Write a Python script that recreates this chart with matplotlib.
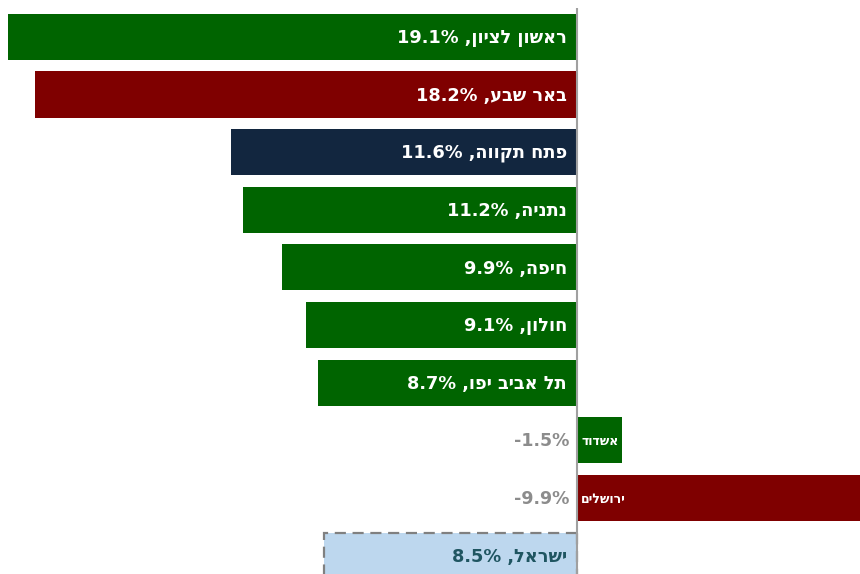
import matplotlib
matplotlib.use("Agg")
import matplotlib.pyplot as plt

# city names (logical order) and growth in %
cities = ["ראשון לציון", "באר שבע", "פתח תקווה", "נתניה", "חיפה",
          "חולון", "תל אביב יפו", "אשדוד", "ירושלים", "ישראל"]
growth = [19.1, 18.2, 11.6, 11.2, 9.9, 9.1, 8.7, -1.5, -9.9, 8.5]

green = "#006400"
maroon = "#7f0000"
navy = "#12263f"
bar_colors = [green, maroon, navy, green, green, green, green, green, maroon, "#bdd7ee"]

plt.rcParams['font.family'] = ['DejaVu Sans']

fig = plt.figure(figsize=(8.6, 5.74), dpi=100)
ax = fig.add_axes([0, 0, 1, 1])

def visual(s):
    # no bidi in matplotlib, flip hebrew by hand
    return s[::-1]

rows = list(range(len(cities)))
for i in rows:
    v = growth[i]
    last = i == len(cities) - 1
    if last:
        ax.barh(i, v, height=0.8, color=bar_colors[i], edgecolor="#808080",
                linewidth=1.6, linestyle=(0, (5, 3)), zorder=2)
    else:
        ax.barh(i, v, height=0.8, color=bar_colors[i], zorder=2)

    if v >= 0:
        txt = "%.1f%% ,%s" % (v, visual(cities[i]))
        col = "#1f5561" if last else "white"
        ax.text(0.33, i + 0.02, txt, ha="right", va="center", color=col,
                fontsize=12.8, fontweight="bold", zorder=3)
    else:
        ax.text(-0.14, i + 0.02, visual(cities[i]), ha="left", va="center",
                color="white", fontsize=9, fontweight="bold", zorder=3)
        ax.text(0.25, i + 0.02, "%.1f%%" % v, ha="right", va="center",
                color="#8c8c8c", fontsize=12.5, fontweight="bold", zorder=3)

# the zero line
ax.vlines(0, -0.5, 9.5, color="#a0a0a0", linewidth=1.5, zorder=4)

ax.set_xlim(19.36, -9.5)
ax.set_ylim(9.32, -0.64)
ax.axis("off")

fig.savefig("out.png", dpi=100)
